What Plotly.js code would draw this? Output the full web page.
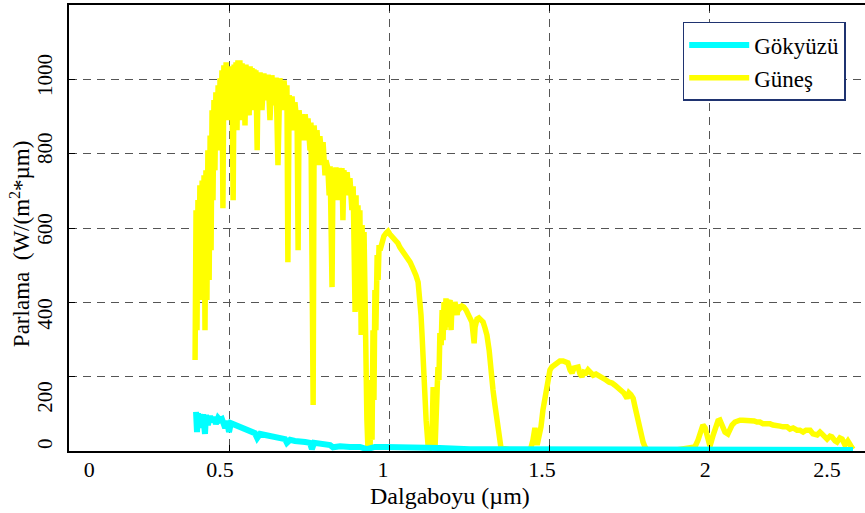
<!DOCTYPE html>
<html>
<head>
<meta charset="utf-8">
<script src="https://cdn.plot.ly/plotly-3.0.1.min.js"></script>
<style>html,body{margin:0;padding:0;background:#fff;}#chart{width:865px;height:513px;}</style>
</head>
<body>
<div id="chart"></div>
<script>
// Wavelength (µm) and irradiance (W/(m²·µm))
const sunX = [0.394,0.397,0.400,0.403,0.406,0.409,0.413,0.416,0.419,0.422,0.425,0.428,0.431,0.434,0.438,0.441,0.444,0.447,0.450,0.453,0.456,0.459,0.463,0.466,0.469,0.472,0.475,0.478,0.481,0.484,0.488,0.491,0.494,0.497,0.500,0.503,0.506,0.509,0.513,0.516,0.519,0.522,0.525,0.528,0.531,0.534,0.538,0.541,0.544,0.547,0.550,0.553,0.556,0.559,0.563,0.566,0.569,0.572,0.575,0.578,0.581,0.584,0.588,0.591,0.594,0.597,0.603,0.609,0.616,0.622,0.628,0.634,0.641,0.647,0.653,0.659,0.666,0.672,0.678,0.681,0.684,0.688,0.694,0.697,0.703,0.706,0.713,0.716,0.719,0.725,0.728,0.734,0.738,0.744,0.747,0.753,0.756,0.763,0.766,0.772,0.775,0.781,0.784,0.791,0.794,0.800,0.803,0.809,0.813,0.816,0.822,0.825,0.831,0.834,0.841,0.844,0.850,0.853,0.856,0.859,0.866,0.869,0.875,0.878,0.884,0.888,0.894,0.897,0.900,0.903,0.906,0.909,0.913,0.916,0.919,0.922,0.925,0.928,0.931,0.934,0.938,0.941,0.944,0.947,0.950,0.953,0.956,0.959,0.963,0.966,0.969,0.972,0.978,0.984,0.991,0.997,1.003,1.009,1.016,1.022,1.028,1.034,1.041,1.047,1.053,1.059,1.066,1.072,1.078,1.084,1.091,1.094,1.097,1.100,1.103,1.106,1.109,1.113,1.116,1.119,1.122,1.128,1.134,1.138,1.141,1.144,1.147,1.150,1.153,1.156,1.159,1.163,1.166,1.169,1.172,1.175,1.178,1.181,1.184,1.191,1.194,1.197,1.203,1.206,1.213,1.216,1.222,1.228,1.234,1.241,1.247,1.253,1.259,1.266,1.269,1.275,1.281,1.288,1.294,1.300,1.306,1.313,1.319,1.325,1.331,1.338,1.344,1.350,1.394,1.441,1.450,1.456,1.463,1.469,1.475,1.481,1.488,1.497,1.503,1.509,1.519,1.525,1.534,1.544,1.553,1.559,1.566,1.572,1.578,1.584,1.591,1.597,1.603,1.609,1.616,1.622,1.628,1.638,1.647,1.659,1.669,1.678,1.688,1.697,1.706,1.716,1.725,1.734,1.744,1.750,1.756,1.763,1.769,1.775,1.781,1.788,1.794,1.800,1.809,1.878,1.956,1.966,1.972,1.981,1.988,1.994,2.003,2.013,2.019,2.028,2.034,2.044,2.050,2.059,2.066,2.072,2.081,2.088,2.097,2.106,2.119,2.128,2.141,2.150,2.159,2.169,2.181,2.191,2.200,2.213,2.222,2.231,2.244,2.253,2.263,2.275,2.284,2.294,2.303,2.316,2.325,2.338,2.347,2.353,2.363,2.369,2.378,2.384,2.394,2.400,2.409,2.416,2.425,2.434,2.444,2.450];
const sunY = [245,648,325,675,433,715,406,728,433,742,325,755,406,809,460,849,540,917,675,944,755,965,809,984,836,1003,863,1024,653,1038,890,1046,917,1024,890,1035,930,1035,675,1040,903,1046,863,1051,917,1051,890,1043,930,1035,876,1040,944,1035,903,1035,944,1030,917,1027,930,1024,809,1019,930,1019,917,1016,944,1013,890,1011,930,1005,769,1003,917,997,930,984,508,957,890,954,863,938,876,540,917,849,906,836,906,849,895,809,884,124,876,782,863,769,847,782,831,742,782,761,688,766,441,761,702,763,675,761,720,761,621,755,702,750,688,734,648,712,374,688,379,661,567,648,312,608,433,589,271,352,83,11,137,11,191,30,325,137,433,325,527,460,554,540,559,578,586,591,583,578,572,565,559,548,540,535,527,519,508,497,487,473,454,433,406,366,317,231,191,137,83,48,16,11,30,172,30,11,83,164,226,191,317,285,379,298,401,325,411,333,392,406,325,398,379,401,366,392,384,390,387,379,368,358,347,290,333,355,358,352,347,331,312,271,204,164,124,83,35,8,0,0,30,62,16,35,65,110,145,200,218,226,234,239,242,242,239,237,218,210,223,226,226,207,200,212,210,218,212,204,207,202,196,191,185,183,177,169,161,156,142,156,151,142,118,91,65,43,24,11,0,0,11,30,48,70,62,38,13,43,62,81,83,67,51,46,62,70,78,81,83,83,83,83,81,78,78,73,75,73,70,70,67,65,65,59,62,56,56,51,56,56,46,43,51,46,35,32,40,38,27,24,35,32,16,27,13,5];
const skyX = [0.397,0.400,0.403,0.406,0.409,0.416,0.419,0.425,0.428,0.434,0.441,0.447,0.453,0.459,0.466,0.472,0.478,0.488,0.494,0.500,0.506,0.519,0.534,0.550,0.566,0.581,0.588,0.597,0.613,0.628,0.644,0.659,0.675,0.681,0.691,0.706,0.722,0.738,0.753,0.759,0.766,0.784,0.800,0.816,0.825,0.847,0.878,0.909,0.931,0.956,0.988,1.034,1.097,1.159,1.253,1.347,1.503,1.816,2.128,2.450];
const skyY = [105,51,102,62,99,67,99,46,97,70,94,78,91,73,89,83,86,62,81,51,75,70,62,56,54,48,35,46,43,40,38,35,32,22,30,27,27,24,22,5,22,19,17,16,10,13,11,11,5,11,11,11,8,8,5,5,3,3,3,3];

const xTickLabels = ['0','0.5','1','1.5','2','2.5'];
const xTickLabelPos = [0.063,0.472,0.981,1.478,1.988,2.369];
const yTickLabels = ['0','200','400','600','800','1000'];
const yTickLabelPos = [11,137,360,589,806,1003];

const seriesNames = ['Gökyüzü','Güneş'];
const xTitle = 'Dalgaboyu (µm)';
const yTitle = 'Parlama  (W/(m<sup>2</sup>*µm)';

const FONT = 'Times New Roman, Liberation Serif, DejaVu Serif, serif';
const xRange = [0, 2.4875];
const yRange = [0, 1200];

const traces = [
  {x: skyX, y: skyY, name: seriesNames[0], type: 'scatter', mode: 'lines',
   line: {color: '#00ffff', width: 6}, xaxis: 'x2', yaxis: 'y2'},
  {x: sunX, y: sunY, name: seriesNames[1], type: 'scatter', mode: 'lines',
   line: {color: '#ffff00', width: 5.5}, xaxis: 'x', yaxis: 'y'}
];

const layout = {
  width: 865, height: 513,
  margin: {l: 69, r: 0, t: 5, b: 62},
  paper_bgcolor: '#ffffff', plot_bgcolor: '#ffffff',
  font: {family: FONT, color: '#000', size: 20},
  showlegend: true,
  legend: {x: 0.771, y: 0.962, xanchor: 'left', yanchor: 'top',
    bgcolor: '#ffffff', bordercolor: '#1f3370', borderwidth: 1.5,
    font: {family: FONT, size: 23, color: '#000'}, traceorder: 'normal',
    tracegroupgap: 0, itemwidth: 60},
  xaxis: {range: xRange, showgrid: true, gridcolor: '#555', gridwidth: 1, griddash: '8px,6px',
    dtick: 0.5, tick0: 0, showticklabels: false, ticks: 'inside', ticklen: 6, tickcolor: '#000',
    showline: true, linecolor: '#000', linewidth: 2, mirror: 'ticks', zeroline: false},
  yaxis: {range: yRange, showgrid: true, gridcolor: '#555', gridwidth: 1, griddash: '8px,6px',
    dtick: 200, tick0: 0, showticklabels: false, ticks: 'inside', ticklen: 6, tickcolor: '#000',
    showline: true, linecolor: '#000', linewidth: 2, zeroline: false},
  xaxis2: {range: xRange, overlaying: 'x', anchor: 'y2', side: 'bottom', showgrid: false,
    zeroline: false, showline: false, ticks: '', tickmode: 'array', ticklabelstandoff: 3,
    tickvals: xTickLabelPos, ticktext: xTickLabels, tickfont: {family: FONT, size: 22}},
  yaxis2: {range: yRange, overlaying: 'y', anchor: 'x2', side: 'left', showgrid: false,
    zeroline: false, showline: false, ticks: '', tickmode: 'array', tickangle: -90, ticklabelstandoff: 12,
    tickvals: yTickLabelPos, ticktext: yTickLabels, tickfont: {family: FONT, size: 21}},
  annotations: [
    {text: xTitle, xref: 'paper', yref: 'paper', x: 0.479, y: -0.1, xanchor: 'center', yanchor: 'middle',
     showarrow: false, font: {family: FONT, size: 24}},
    {text: yTitle, xref: 'paper', yref: 'paper', x: -0.0616, y: 0.466, xanchor: 'center', yanchor: 'middle',
     textangle: -90, showarrow: false, font: {family: FONT, size: 23}}
  ]
};

Plotly.newPlot('chart', traces, layout, {displayModeBar: false, staticPlot: true});
</script>
</body>
</html>
